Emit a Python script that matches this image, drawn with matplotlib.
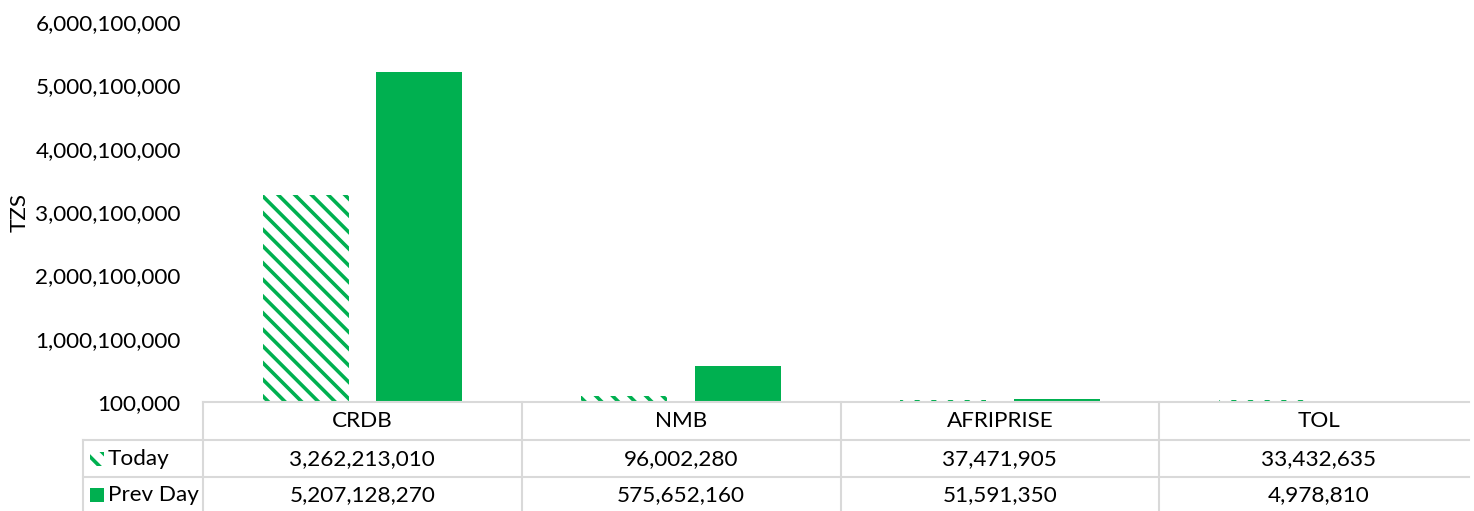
import numpy as np
import matplotlib.pyplot as plt
from matplotlib.patches import Rectangle
from matplotlib.transforms import blended_transform_factory

plt.rcParams['font.family'] = ['Lato', 'DejaVu Sans']
plt.rcParams['hatch.linewidth'] = 2.6

# data
banks = ['CRDB', 'NMB', 'AFRIPRISE', 'TOL']
today = [3262213010, 96002280, 37471905, 33432635]
prev_day = [5207128270, 575652160, 51591350, 4978810]
series_names = ['Today', 'Prev Day']
y_ticks = [100000 + k * 1000000000 for k in range(7)]

green = '#00B050'
grid = '#D9D9D9'
base = 100000
fs = 16.2

fig = plt.figure(figsize=(14.74, 5.11), dpi=100)
ax = fig.add_axes([203 / 1474, 109 / 511, 1275 / 1474, 380 / 511])

x = np.arange(len(banks))
w = 0.27
off = 0.178
ax.bar(x - off, np.array(today) - base, w, bottom=base, color='white',
       edgecolor=green, hatch='\\\\', linewidth=0)
ax.bar(x + off, np.array(prev_day) - base, w, bottom=base, color=green, linewidth=0)

ax.set_xlim(-0.5, len(banks) - 0.5)
ax.set_ylim(y_ticks[0], y_ticks[-1])
ax.set_yticks(y_ticks)
ax.set_yticklabels([f'{v:,}' for v in y_ticks], fontsize=fs, color='#000000')
ax.tick_params(axis='y', length=0, pad=16)
ax.set_xticks([])
for s in ax.spines.values():
    s.set_visible(False)
ax.set_ylabel('TZS', fontsize=fs, labelpad=4)

# data table below the axes
tr = blended_transform_factory(ax.transData, fig.transFigure)
ftr = fig.transFigure
def fy(py):
    return 1 - py / 511

lx0 = 83 / 1474
px0 = 203 / 1474
rx = 1469 / 1474
lw = 1.5
# horizontal lines
fig.add_artist(plt.Line2D([px0, rx], [fy(402), fy(402)], color=grid, lw=lw, transform=ftr))
for py in (440, 477):
    fig.add_artist(plt.Line2D([lx0, rx], [fy(py), fy(py)], color=grid, lw=lw, transform=ftr))
# vertical lines
fig.add_artist(plt.Line2D([lx0, lx0], [fy(440), 0], color=grid, lw=lw, transform=ftr))
for i in range(len(banks)):
    xb = i - 0.5
    fig.add_artist(plt.Line2D([xb, xb], [fy(402), 0], color=grid, lw=lw, transform=tr))

rows = [today, prev_day]
row_y = [fy(459), fy(495)]
for i, b in enumerate(banks):
    fig.text(i, fy(421), b, transform=tr, ha='center', va='center', fontsize=fs)
    for r, vals in enumerate(rows):
        fig.text(i, row_y[r], f'{vals[i]:,}', transform=tr, ha='center', va='center', fontsize=fs)

# legend keys in the table
for r, name in enumerate(series_names):
    kx, ky = 90 / 1474, row_y[r] - 7 / 511
    if r == 0:
        key = Rectangle((kx, ky), 14 / 1474, 14 / 511, transform=ftr, facecolor='white',
                        edgecolor=green, hatch='\\\\', linewidth=0)
    else:
        key = Rectangle((kx, ky), 14 / 1474, 14 / 511, transform=ftr, facecolor=green, linewidth=0)
    fig.add_artist(key)
    fig.text(108 / 1474, row_y[r], name, transform=ftr, ha='left', va='center', fontsize=fs)

fig.savefig('out.png', dpi=100)
